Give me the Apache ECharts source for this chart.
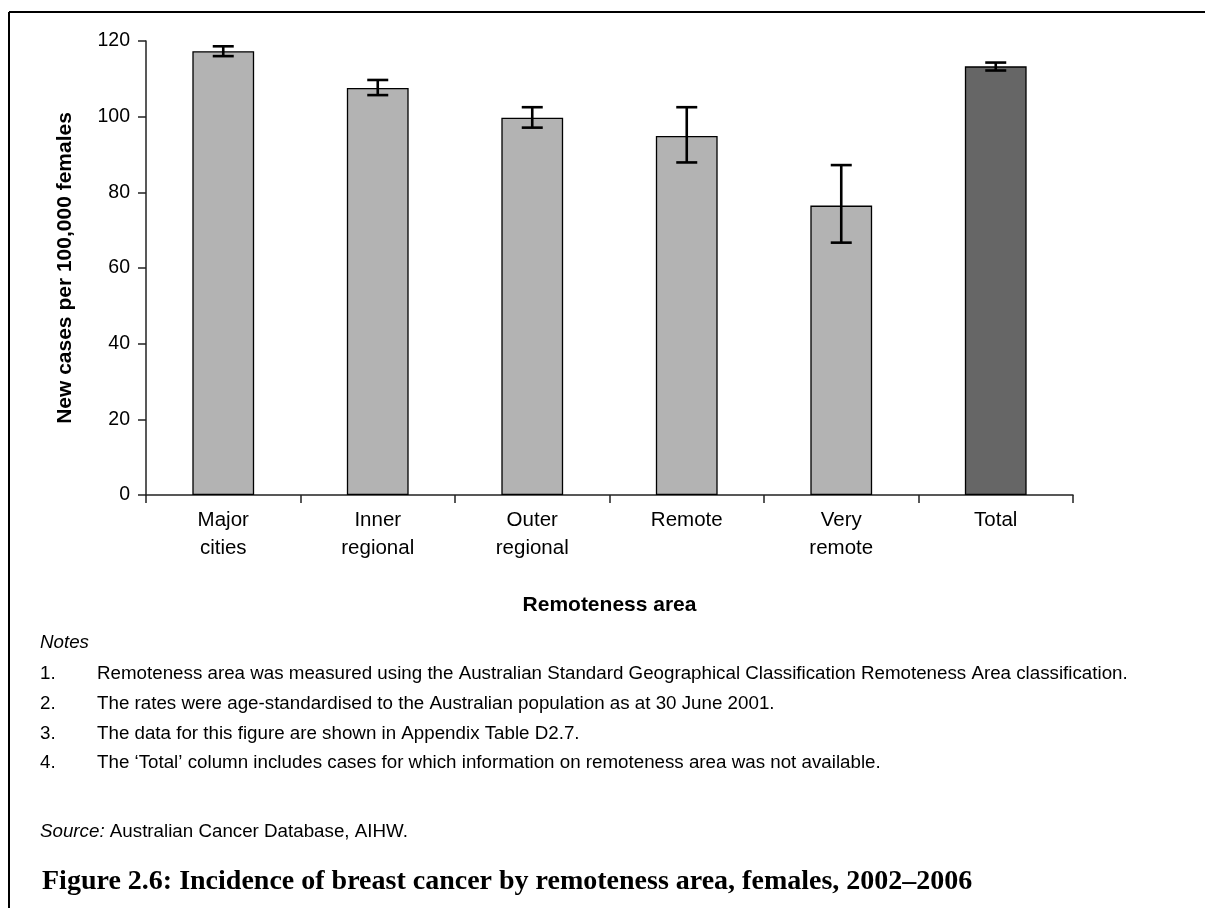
<!DOCTYPE html>
<html>
<head>
<meta charset="utf-8">
<script src="https://cdn.jsdelivr.net/npm/echarts@6/dist/echarts.min.js"></script>
<style>
  html, body { margin: 0; padding: 0; background: #ffffff; }
  #chart { width: 1205px; height: 908px; }
</style>
</head>
<body>
<div id="chart"></div>
<script>
// Breast cancer incidence by remoteness area, females, 2002–2006
const categories = ['Major\ncities', 'Inner\nregional', 'Outer\nregional', 'Remote', 'Very\nremote', 'Total'];
const rates = [117.3, 107.6, 99.7, 94.9, 76.5, 113.3];      // age-standardised rate per 100,000
const ciLower = [116.0, 105.7, 97.1, 87.9, 66.7, 112.2];    // lower 95% confidence limit
const ciUpper = [118.6, 109.7, 102.5, 102.5, 87.2, 114.3];  // upper 95% confidence limit

const yMin = 0, yMax = 120, yStep = 20;

const noteLines = [
  'Remoteness area was measured using the Australian Standard Geographical Classification Remoteness Area classification.',
  'The rates were age-standardised to the Australian population as at 30 June 2001.',
  'The data for this figure are shown in Appendix Table D2.7.',
  'The \u2018Total\u2019 column includes cases for which information on remoteness area was not available.'
];
const sourceText = 'Australian Cancer Database, AIHW.';
const figureTitle = 'Figure 2.6: Incidence of breast cancer by remoteness area, females, 2002\u20132006';

const SANS = '"Liberation Sans", Arial, sans-serif';
const SERIF = '"Liberation Serif", "Times New Roman", serif';
const NOTE_SIZE = 18.75;

const chart = echarts.init(document.getElementById('chart'), null, { renderer: 'canvas' });

// Notes block underneath the plot
const noteGraphics = [];
noteGraphics.push({
  type: 'text', x: 40, y: 643,
  style: { text: 'Notes', font: 'italic ' + NOTE_SIZE + 'px ' + SANS, fill: '#000', verticalAlign: 'middle' }
});
noteLines.forEach((line, i) => {
  const y = 674 + i * 29.7;
  noteGraphics.push({
    type: 'text', x: 40, y: y,
    style: { text: (i + 1) + '.', font: NOTE_SIZE + 'px ' + SANS, fill: '#000', verticalAlign: 'middle' }
  });
  noteGraphics.push({
    type: 'text', x: 97, y: y,
    style: { text: line, font: NOTE_SIZE + 'px ' + SANS, fill: '#000', verticalAlign: 'middle' }
  });
});
noteGraphics.push({
  type: 'text', x: 40, y: 832,
  style: {
    text: '{i|Source:} ' + sourceText,
    fontSize: NOTE_SIZE, fontFamily: SANS, fill: '#000', verticalAlign: 'middle',
    rich: { i: { fontStyle: 'italic', fontSize: NOTE_SIZE, fontFamily: SANS, fill: '#000' } }
  }
});
noteGraphics.push({
  type: 'text', x: 42, y: 882,
  style: { text: figureTitle, font: 'bold 28px ' + SERIF, fill: '#000', verticalAlign: 'middle' }
});

// Frame along the top and left edges
const frame = [
  { type: 'line', shape: { x1: 9, y1: 12, x2: 1205, y2: 12 }, style: { stroke: '#000', lineWidth: 2 } },
  { type: 'line', shape: { x1: 9, y1: 12, x2: 9, y2: 908 }, style: { stroke: '#000', lineWidth: 2 } }
];

const option = {
  backgroundColor: '#ffffff',
  animation: false,
  grid: { left: 146, top: 41, right: 132, bottom: 413, containLabel: false },
  xAxis: {
    type: 'category',
    data: categories,
    boundaryGap: true,
    name: 'Remoteness area',
    nameLocation: 'middle',
    nameGap: 100,
    nameTextStyle: { fontFamily: SANS, fontSize: 21, fontWeight: 'bold', color: '#000' },
    axisLine: { show: true, lineStyle: { color: '#222', width: 1.5 } },
    axisTick: { show: true, alignWithLabel: false, length: 8, lineStyle: { color: '#222', width: 1.5 } },
    axisLabel: { fontFamily: SANS, fontSize: 20.5, lineHeight: 27.5, color: '#000', margin: 12, interval: 0 },
    splitLine: { show: false }
  },
  yAxis: {
    type: 'value',
    min: yMin, max: yMax, interval: yStep,
    name: 'New cases per 100,000 females',
    nameLocation: 'middle',
    nameRotate: 90,
    nameGap: 70,
    nameTextStyle: { fontFamily: SANS, fontSize: 21, fontWeight: 'bold', color: '#000' },
    axisLine: { show: true, lineStyle: { color: '#222', width: 1.5 } },
    axisTick: { show: true, length: 8, lineStyle: { color: '#222', width: 1.5 } },
    axisLabel: { fontFamily: SANS, fontSize: 19.5, color: '#000', margin: 16 },
    splitLine: { show: false }
  },
  series: [
    {
      type: 'bar',
      barWidth: '40%',
      data: rates.map((v, i) => ({
        value: v,
        itemStyle: { color: categories[i] === 'Total' ? '#666666' : '#b3b3b3' }
      })),
      itemStyle: { borderColor: '#000', borderWidth: 1.3 },
      z: 2
    },
    {
      type: 'custom',
      data: categories.map((c, i) => [i, ciLower[i], ciUpper[i]]),
      encode: { x: 0, y: [1, 2] },
      z: 3,
      renderItem: function (params, api) {
        const idx = api.value(0);
        const lo = api.coord([idx, api.value(1)]);
        const hi = api.coord([idx, api.value(2)]);
        const half = 10.5;
        const st = { stroke: '#000', lineWidth: 2.6 };
        return {
          type: 'group',
          children: [
            { type: 'line', shape: { x1: hi[0], y1: hi[1], x2: lo[0], y2: lo[1] }, style: st },
            { type: 'line', shape: { x1: hi[0] - half, y1: hi[1], x2: hi[0] + half, y2: hi[1] }, style: st },
            { type: 'line', shape: { x1: lo[0] - half, y1: lo[1], x2: lo[0] + half, y2: lo[1] }, style: st }
          ]
        };
      }
    }
  ],
  graphic: frame.concat(noteGraphics)
};

chart.setOption(option);
</script>
</body>
</html>
